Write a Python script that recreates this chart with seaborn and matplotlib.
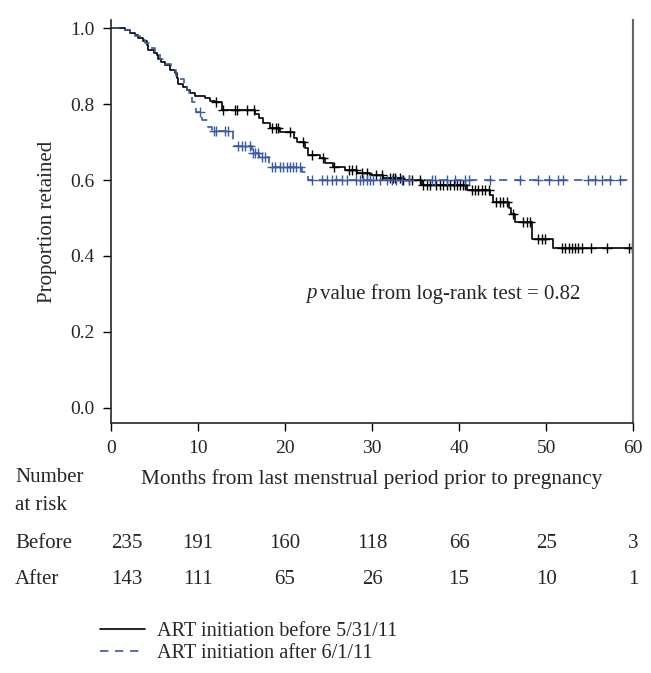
import numpy as np
import pandas as pd
import matplotlib
matplotlib.use("Agg")
import matplotlib.pyplot as plt
import matplotlib.transforms as mtransforms
import seaborn as sns

# Kaplan-Meier steps (time in months, proportion retained)
before_t = [0, 1.6, 2.2, 2.8, 3.1, 3.7, 4.1, 4.3, 4.9, 5.25, 5.4, 5.8, 6.2, 6.8, 7.4, 7.55,
            7.7, 8.3, 8.7, 9.1, 9.65, 10.8, 11.4, 12.0, 12.7, 16.5, 17.0, 17.5, 18.3, 19.4,
            21.0, 21.4, 22.3, 22.6, 24.0, 24.6, 25.5, 26.9, 28.3, 29.8, 31.3, 33.5, 35.7,
            40.9, 43.6, 43.9, 45.7, 46.0, 46.4, 48.4, 50.8, 60]
before_s = [1.0, 0.995, 0.988, 0.982, 0.975, 0.967, 0.955, 0.942, 0.935, 0.929, 0.92, 0.911,
            0.903, 0.891, 0.882, 0.868, 0.854, 0.846, 0.837, 0.828, 0.821, 0.815, 0.809, 0.805,
            0.785, 0.775, 0.763, 0.75, 0.737, 0.726, 0.71, 0.70, 0.685, 0.666, 0.658, 0.645,
            0.634, 0.626, 0.618, 0.613, 0.605, 0.60, 0.587, 0.574, 0.56, 0.542, 0.526, 0.51,
            0.49, 0.445, 0.42, 0.42]

after_t = [0, 1.6, 2.2, 2.8, 3.3, 3.9, 4.4, 5.0, 5.6, 6.2, 6.9, 7.5, 8.4, 8.7, 9.0, 9.35,
           9.8, 10.5, 11.2, 11.6, 14.0, 16.2, 17.0, 18.2, 22.0, 22.6, 60]
after_s = [1.0, 0.995, 0.988, 0.98, 0.972, 0.962, 0.948, 0.935, 0.92, 0.905, 0.89, 0.865,
           0.85, 0.837, 0.82, 0.806, 0.78, 0.758, 0.74, 0.73, 0.69, 0.67, 0.66, 0.635, 0.62,
           0.60, 0.60]

# censoring times
before_cens = [12.1, 12.9, 14.3, 14.5, 15.6, 16.4, 18.5, 19.0, 19.2, 20.6, 22.1, 23.1, 24.4,
               25.6, 27.3, 27.7, 28.2, 28.8, 29.4, 30.5, 31.1, 32.1, 32.4, 32.6, 33.2, 33.6,
               34.2, 34.6, 35.5, 35.9, 36.3, 36.7, 37.4, 37.8, 38.2, 38.6, 39.0, 39.4, 39.8,
               40.1, 40.5, 40.7, 41.5, 41.8, 42.2, 42.6, 43.0, 43.4, 44.3, 44.7, 45.1, 45.5,
               46.2, 47.4, 47.8, 48.2, 49.1, 49.5, 49.9, 51.8, 52.2, 52.6, 53.0, 53.3, 53.7,
               54.1, 55.2, 57.0, 59.5, 59.9]
after_cens = [10.2, 11.8, 12.1, 13.1, 13.4, 14.6, 15.0, 15.4, 16.0, 16.35, 16.55, 16.9, 17.3,
              17.7, 18.5, 18.9, 19.4, 19.8, 20.2, 20.6, 20.9, 21.3, 21.7, 23.1, 24.2, 24.8,
              25.4, 25.9, 26.5, 27.1, 28.2, 28.6, 29.0, 29.4, 29.8, 30.1, 30.9, 31.7, 32.3,
              32.8, 33.4, 34.2, 36.9, 37.2, 38.6, 39.5, 40.7, 41.1, 43.6, 47.0, 49.1, 50.3,
              51.4, 52.0, 54.8, 55.6, 56.4, 57.4, 58.5]

risk_times = [0, 10, 20, 30, 40, 50, 60]
risk_before = [235, 191, 160, 118, 66, 25, 3]
risk_after = [143, 111, 65, 26, 15, 10, 1]

black = "#000000"
blue = "#3a5aa8"
FS = 15

sns.set_style("ticks")
plt.rcParams['font.family'] = ['Liberation Serif', 'DejaVu Serif']


def censor_points(steps_t, steps_s, cens):
    idx = np.searchsorted(steps_t, cens, side='right') - 1
    return pd.DataFrame({'t': cens, 's': np.asarray(steps_s)[idx]})


fig = plt.figure(figsize=(6.51, 6.73), dpi=100)
ax = fig.add_axes([0.1705, 0.3715, 0.802, 0.5985])

df_b = pd.DataFrame({'t': before_t, 's': before_s})
df_a = pd.DataFrame({'t': after_t, 's': after_s})

sns.lineplot(data=df_b, x='t', y='s', drawstyle='steps-post', color=black, lw=1.2, ax=ax,
             label='ART initiation before 5/31/11')
sns.lineplot(data=df_a, x='t', y='s', drawstyle='steps-post', color=blue, lw=1.2, ax=ax,
             dashes=False, linestyle=(0, (5, 4)), label='ART initiation after 6/1/11')

cb = censor_points(before_t, before_s, before_cens)
ca = censor_points(after_t, after_s, after_cens)
ax.plot(cb['t'], cb['s'], ls='none', marker='+', ms=7, mew=1.0, color=black)
ax.plot(ca['t'], ca['s'], ls='none', marker='+', ms=7, mew=1.0, color=blue)

ax.set_xlim(0, 60)
ax.set_ylim(-0.04, 1.021)
ax.set_xticks(risk_times)
ax.set_yticks([0.0, 0.2, 0.4, 0.6, 0.8, 1.0])
ax.set_yticklabels(['0.0', '0.2', '0.4', '0.6', '0.8', '1.0'])
ax.tick_params(labelsize=14, length=6, width=1, color='black', pad=6)
ax.spines['top'].set_visible(False)
ax.spines['right'].set_color('#666666')
ax.spines['right'].set_linewidth(1.5)
for sp in ['left', 'bottom']:
    ax.spines[sp].set_linewidth(1.2)

ax.set_ylabel('Proportion retained', fontsize=FS, labelpad=9)
ax.set_xlabel('Months from last menstrual period prior to pregnancy', fontsize=15.4,
              labelpad=9)

ax.text(22.4, 0.30, 'p', fontsize=FS, ha='left', va='center', style='italic')
ax.text(24.0, 0.30, 'value from log-rank test = 0.82', fontsize=FS, ha='left', va='center')
ax.get_legend().remove()

# number at risk table
trans = mtransforms.blended_transform_factory(ax.transData, fig.transFigure)
fig.text(15 / 651, 1 - 478 / 673, 'Number', fontsize=FS, va='center', ha='left')
fig.text(15 / 651, 1 - 505 / 673, 'at risk', fontsize=FS, va='center', ha='left')
fig.text(15 / 651, 1 - 543 / 673, 'Before', fontsize=FS, va='center', ha='left')
fig.text(15 / 651, 1 - 580 / 673, 'After', fontsize=FS, va='center', ha='left')
for i, t in enumerate(risk_times):
    xt = 1.8 if t == 0 else t
    ax.text(xt, 1 - 543 / 673, str(risk_before[i]), transform=trans, fontsize=FS,
            ha='center', va='center')
    ax.text(xt, 1 - 580 / 673, str(risk_after[i]), transform=trans, fontsize=FS,
            ha='center', va='center')

handles, labels = ax.get_lines()[0:2], ['ART initiation before 5/31/11',
                                        'ART initiation after 6/1/11']
fig.legend(handles, labels, loc='upper left', bbox_to_anchor=(92 / 651, 1 - 614 / 673),
           frameon=False, fontsize=14.6, handlelength=2.2, labelspacing=0.12,
           handletextpad=0.6, borderaxespad=0)

fig.savefig('out.png', dpi=100)
